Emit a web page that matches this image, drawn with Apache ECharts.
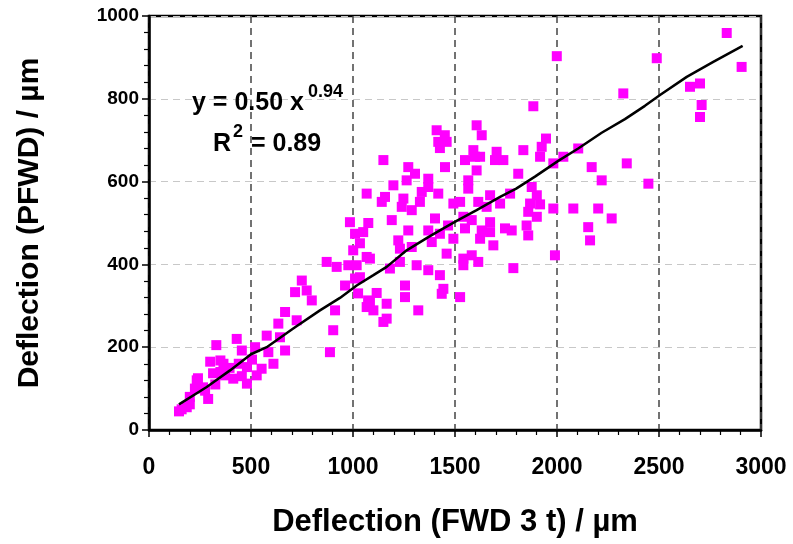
<!DOCTYPE html>
<html>
<head>
<meta charset="utf-8">
<script src="https://cdn.jsdelivr.net/npm/echarts@6/dist/echarts.min.js"></script>
<style>html,body{margin:0;padding:0;background:#fff}#c{width:793px;height:544px}</style>
</head>
<body>
<div id="c"></div>
<script>
// Scatter data: FWD deflection (x) vs PFWD deflection (y), µm
const xVals = [147,185,200,225,240,275,300,330,325,350,365,373,413,430,455,480,480,520,528,552,585,577,610,634,642,667,667,716,724,749,773,798,887,903,912,871,920,961,977,1010,1025,
160,200,234,265,314,350,395,440,505,455,290,
1001,1034,1067,1034,1074,1067,
985,1075,1190,1010,1050,1083,1018,1083,1116,1165,1100,1149,1165,1255,1255,1320,1181,1230,1312,1369,1426,1435,1222,1230,1271,1369,1459,1402,1288,1386,
1149,1410,1418,1459,1426,1450,1271,1304,1263,1369,1198,1369,1067,1157,1141,1247,1337,1418,1239,1288,1328,1451,1426,1492,
1884,1606,1631,1590,1598,1549,1623,1704,1696,1737,1835,1925,1946,1917,1606,1810,1565,1565,1876,1901,1672,1770,1492,1525,1614,1655,1721,1868,
1549,1623,1631,1672,1745,1778,1859,1851,1901,1859,1982,1688,1541,1541,1582,1614,1786,1990,1443,1525,1466,1541,1582,1672,
2832,1999,2489,2905,2652,2701,2709,2701,2325,2104,2031,1982,2170,2219,2342,2448,1917,2080,2202,2268,2153,2162];
const yVals = [45,55,80,100,125,95,165,205,110,168,160,132,124,220,192,152,112,200,132,148,188,228,160,257,224,285,192,333,265,361,337,313,188,241,289,406,394,349,398,366,330,
50,62,120,103,137,140,150,160,170,130,75,
434,451,418,369,313,297,
502,500,507,474,478,414,398,309,331,305,289,261,269,349,321,289,390,406,398,386,374,329,458,438,482,482,426,511,442,454,
652,724,696,696,681,712,635,619,603,607,591,587,571,563,551,559,575,571,539,531,551,635,474,462,
782,736,712,676,660,652,660,672,652,652,676,684,704,660,627,619,603,583,587,567,567,571,547,551,551,539,547,547,
487,462,482,478,487,482,470,494,515,527,535,446,414,398,422,406,391,422,341,321,494,515,507,502,
959,903,898,877,829,837,785,756,813,680,660,644,635,603,644,595,545,535,535,511,490,458];

// Fitted power curve as drawn
const fitX = [147,283,397,500,577,707,838,936,1018,1100,1165,1263,1369,1426,1508,1606,1721,1800,1892,2006,2104,2219,2333,2431,2505,2636,2766,2910];
const fitY = [62,104,144,183,200,245,289,319,349,374,394,434,466,482,505,531,563,583,612,650,680,718,751,783,809,853,889,928];

// Axis ticks
const xTicks = [0,500,1000,1500,2000,2500,3000];
const yTicks = [0,200,400,600,800,1000];

const scatterData = xVals.map((x,i)=>[x,yVals[i]]);
const fitData = fitX.map((x,i)=>[x,fitY[i]]);

const FONT = "'Liberation Sans', Arial, sans-serif";
const chart = echarts.init(document.getElementById('c'), null, {renderer:'canvas'});
chart.setOption({
  animation:false,
  backgroundColor:'#fff',
  grid:{left:149, right:32, top:16, bottom:114, show:true, borderColor:'#000', borderWidth:2.5, backgroundColor:'transparent'},
  xAxis:{
    type:'value', min:xTicks[0], max:xTicks[xTicks.length-1], interval:500,
    name:'Deflection (FWD 3 t) / µm', nameLocation:'middle', nameGap:77,
    nameTextStyle:{fontFamily:FONT, fontWeight:'bold', fontSize:31, color:'#000'},
    axisLine:{show:true, lineStyle:{color:'#000', width:2.5}},
    axisTick:{show:true, inside:false, length:7, lineStyle:{color:'#000', width:1.5}},
    minorTick:{show:true, splitNumber:5, length:5, lineStyle:{color:'#000', width:1.2}},
    axisLabel:{fontFamily:FONT, fontWeight:'bold', fontSize:23, color:'#000', margin:26,
      formatter:(v)=>String(v)},
    splitLine:{show:true, lineStyle:{color:'#444', width:1.5, type:[7,5]}}
  },
  yAxis:{
    type:'value', min:yTicks[0], max:yTicks[yTicks.length-1], interval:200,
    name:'Deflection (PFWD) / µm', nameLocation:'middle', nameGap:104, nameRotate:90,
    nameTextStyle:{fontFamily:FONT, fontWeight:'bold', fontSize:30, color:'#000'},
    axisLine:{show:true, lineStyle:{color:'#000', width:2.5}},
    axisTick:{show:true, inside:false, length:7, lineStyle:{color:'#000', width:1.5}},
    minorTick:{show:true, splitNumber:5, length:5, lineStyle:{color:'#000', width:1.2}},
    axisLabel:{fontFamily:FONT, fontWeight:'bold', fontSize:19, color:'#000', margin:10,
      formatter:(v)=>String(v)},
    splitLine:{show:true, lineStyle:{color:'#c8c8c8', width:1.2, type:[7,5]}}
  },
  series:[
    {type:'scatter', data:scatterData, symbol:'rect', symbolSize:10,
     itemStyle:{color:'#ff00ff', opacity:1}, z:2},
    {type:'line', data:fitData, showSymbol:false, symbol:'none', smooth:false,
     lineStyle:{color:'#000', width:2.5}, z:3}
  ],
  graphic:[
    {type:'text', x:192, y:103.5, z:10, style:{text:'y = 0.50 x', fill:'#000',
      font:"bold 25px 'Liberation Sans', Arial, sans-serif", verticalAlign:'middle', align:'left'}},
    {type:'text', x:308, y:92, z:10, style:{text:'0.94', fill:'#000',
      font:"bold 18px 'Liberation Sans', Arial, sans-serif", verticalAlign:'middle', align:'left'}},
    {type:'text', x:213, y:144.5, z:10, style:{text:'R', fill:'#000',
      font:"bold 25px 'Liberation Sans', Arial, sans-serif", verticalAlign:'middle', align:'left'}},
    {type:'text', x:233, y:132, z:10, style:{text:'2', fill:'#000',
      font:"bold 18px 'Liberation Sans', Arial, sans-serif", verticalAlign:'middle', align:'left'}},
    {type:'text', x:244, y:144.5, z:10, style:{text:' = 0.89', fill:'#000',
      font:"bold 25px 'Liberation Sans', Arial, sans-serif", verticalAlign:'middle', align:'left'}}
  ]
});
</script>
</body>
</html>
